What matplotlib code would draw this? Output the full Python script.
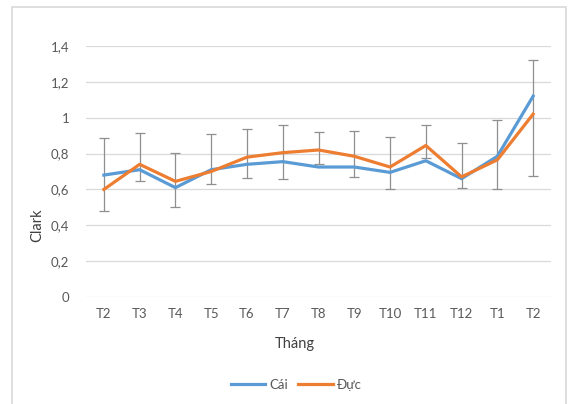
import numpy as np
import matplotlib.pyplot as plt
from matplotlib.patches import Rectangle

plt.rcParams['font.family'] = ['Lato', 'DejaVu Sans']

months = ['T2', 'T3', 'T4', 'T5', 'T6', 'T7', 'T8', 'T9', 'T10', 'T11', 'T12', 'T1', 'T2']
cai = [0.68, 0.71, 0.61, 0.71, 0.74, 0.755, 0.725, 0.725, 0.695, 0.76, 0.66, 0.785, 1.12]
duc = [0.60, 0.74, 0.645, 0.70, 0.78, 0.805, 0.82, 0.785, 0.725, 0.845, 0.67, 0.765, 1.02]
err_top = [0.885, 0.915, 0.805, 0.91, 0.935, 0.96, 0.92, 0.925, 0.895, 0.96, 0.86, 0.985, 1.32]
err_bottom = [0.48, 0.645, 0.50, 0.63, 0.665, 0.66, 0.74, 0.67, 0.605, 0.775, 0.61, 0.60, 0.675]

W, H = 568, 404
fig = plt.figure(figsize=(W / 100, H / 100), dpi=100)

# chart area border
fig.patches.append(Rectangle((12 / W, -0.01), 554 / W, (H - 7) / H + 0.01,
                             transform=fig.transFigure, fill=False,
                             edgecolor='#d9d9d9', linewidth=1.2))

ax = fig.add_axes([86 / W, (H - 297) / H, 465 / W, 251 / H])
x = np.arange(len(months))

# error bars: drawn from the low to the high value of each month
top = np.array(err_top)
bottom = np.array(err_bottom)
mid = (top + bottom) / 2
ax.errorbar(x, mid, yerr=(top - bottom) / 2, fmt='none', ecolor='#8f8f8f',
            elinewidth=0.9, capsize=3.5, capthick=0.9, zorder=2)

ax.plot(x, cai, color='#5b9bd5', linewidth=2.3, label='Cái', zorder=3,
        solid_joinstyle='round')
ax.plot(x, duc, color='#ed7d31', linewidth=2.3, label='Đực', zorder=4,
        solid_joinstyle='round')

ax.set_xlim(-0.5, len(months) - 0.5)
ax.set_ylim(0, 1.4)
yt = np.arange(0, 1.41, 0.2)
ax.set_yticks(yt)
ax.set_yticklabels(['0', '0,2', '0,4', '0,6', '0,8', '1', '1,2', '1,4'])
ax.set_xticks(x)
ax.set_xticklabels(months)
ax.tick_params(length=0, labelsize=9.5, colors='#595959', pad=8)
ax.tick_params(axis='y', pad=12)
ax.grid(axis='y', color='#d9d9d9', linewidth=0.9)
ax.set_axisbelow(True)
for s in ax.spines.values():
    s.set_visible(False)

fig.text(295 / W, 1 - 344 / H, 'Tháng', ha='center', va='center',
         fontsize=10.5, color='#404040')
fig.text(37 / W, 1 - 225 / H, 'Clark', ha='center', va='center',
         rotation=90, fontsize=10.5, color='#404040')

fig.legend(loc='center', bbox_to_anchor=(296 / W, 1 - 385 / H), ncol=2,
           frameon=False, fontsize=9.5, handlelength=2.6, handletextpad=0.3,
           columnspacing=0.8, labelcolor='#595959')

fig.savefig('out.png', dpi=100)
